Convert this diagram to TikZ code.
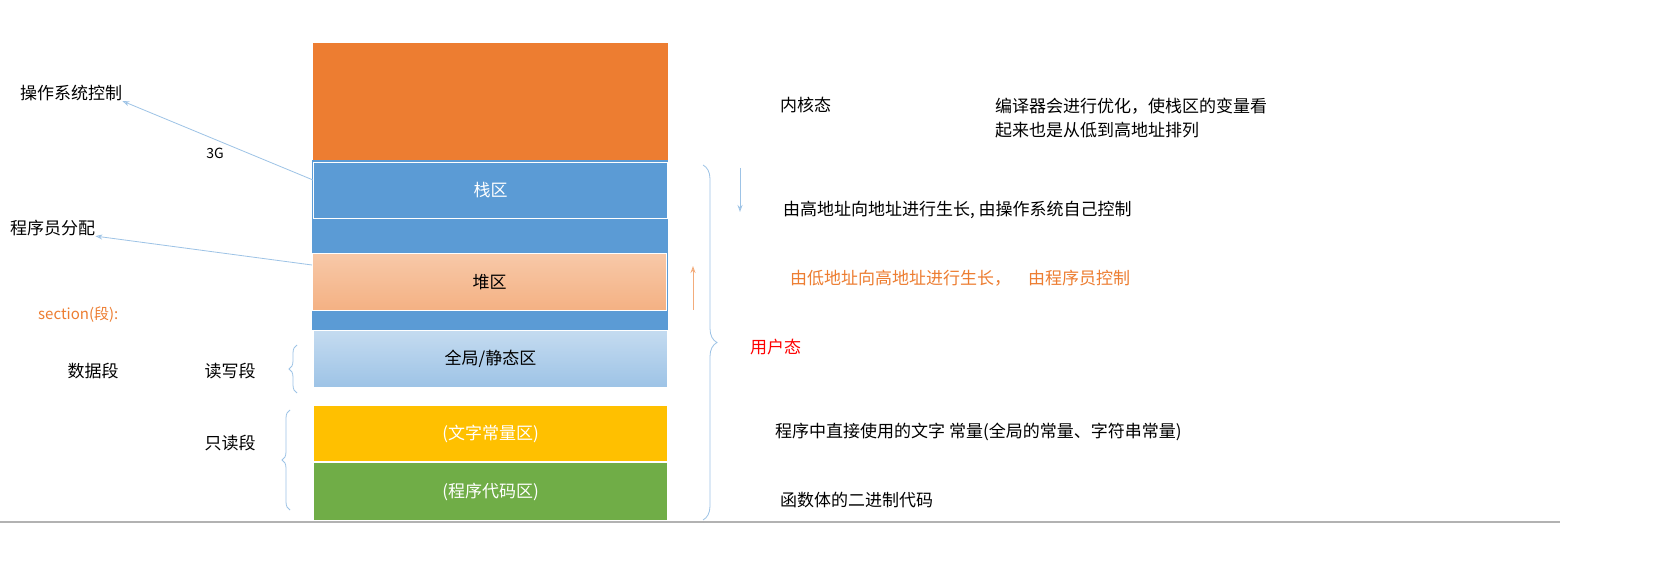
\documentclass[tikz,border=0pt]{standalone}
\usepackage{fontspec}
\setmainfont{Noto Sans CJK SC}
\usetikzlibrary{decorations.pathreplacing,arrows.meta}
\definecolor{org}{HTML}{ED7D31}
\definecolor{blu}{HTML}{5B9BD5}
\definecolor{ylw}{HTML}{FFC000}
\definecolor{grn}{HTML}{70AD47}
\definecolor{lb}{HTML}{9DC3E6}
\definecolor{salm}{HTML}{F4B183}
\tikzset{txt/.style={font=\fontsize{17}{24}\selectfont, inner sep=0pt},
blk/.style={draw=white, line width=1pt, inner sep=0pt, text=white, font=\fontsize{17}{20}\selectfont},
thinarrow/.style={draw=lb, line width=0.8pt, -{Stealth[length=7pt,width=5pt,open]}},
brc/.style={draw=lb, line width=0.8pt, decorate, decoration={brace, amplitude=8pt}}}
\begin{document}
\begin{tikzpicture}[x=1pt,y=-1pt]
\useasboundingbox (0,0) rectangle (1660,561);
\fill[white] (0,0) rectangle (1660,561);
\draw[gray!60, line width=1.5pt] (0,522) -- (1560,522);
% blocks
\node[blk, fill=org, minimum width=356, minimum height=118, anchor=north west] (kern) at (312,42) {};
\fill[blu] (312,160) rectangle (668,330);
\node[blk, fill=blu, minimum width=354, minimum height=56, anchor=north west] (stack) at (313,162) {栈区};
\node[blk, top color=salm!70, bottom color=salm, text=black, minimum width=354, minimum height=57, anchor=north west] (heap) at (312,253) {堆区};
\node[blk, top color=lb!60, bottom color=lb, text=black, minimum width=354, minimum height=57, anchor=north west] (glob) at (313,330) {全局/静态区};
\node[blk, fill=ylw, minimum width=354, minimum height=56, anchor=north west] (lit) at (313,405) {(文字常量区)};
\node[blk, fill=grn, minimum width=354, minimum height=58, anchor=north west] (code) at (313,462) {(程序代码区)};
% left labels
\node[txt, anchor=west] (os) at (20,93) {操作系统控制};
\node[txt, font=\fontsize{14}{16}\selectfont] (g3) at (215,153) {3G};
\coordinate (s1) at (313,180);
\draw[thinarrow] (s1) -- (os.south east);
\node[txt, anchor=west] (prog) at (10,228) {程序员分配};
\coordinate (h1) at (312,265);
\draw[thinarrow] (h1) -- (prog.south east);
\node[txt, anchor=west, text=org, font=\fontsize{15}{18}\selectfont] (sec) at (38,315) {section(段):};
\node[txt] (data) at (93,371) {数据段};
\node[txt] (rw) at (230,371) {读写段};
\node[txt] (ro) at (230,443) {只读段};
\draw[brc] (297,393) -- (297,345);
\draw[brc] (290,510) -- (290,410);
% right
\draw[brc, decoration={amplitude=14pt}] (703,165) -- (703,520);
\node[txt, anchor=west, text=red] (user) at (750,347) {用户态};
\coordinate (d1) at (740,168);
\coordinate (d2) at (740,212);
\draw[thinarrow] (d1) -- (d2);
\coordinate (u1) at (693,310);
\coordinate (u2) at (693,266);
\draw[draw=salm!90!org, line width=0.8pt, -{Stealth[length=7pt,width=5pt,open]}] (u1) -- (u2);
\node[txt, anchor=west] (kt) at (780,105) {内核态};
\node[txt, anchor=north west, align=left] (opt) at (995,98) {编译器会进行优化，使栈区的变量看\\起来也是从低到高地址排列};
\node[txt, anchor=west] (sd) at (783,210) {由高地址向地址进行生长, 由操作系统自己控制};
\node[txt, anchor=west, text=org] (hd) at (790,278) {由低地址向高地址进行生长，\quad 由程序员控制};
\node[txt, anchor=west] (ld) at (775,432) {程序中直接使用的文字 常量(全局的常量、字符串常量)};
\node[txt, anchor=west] (cd) at (780,500) {函数体的二进制代码};
\end{tikzpicture}
\end{document}
